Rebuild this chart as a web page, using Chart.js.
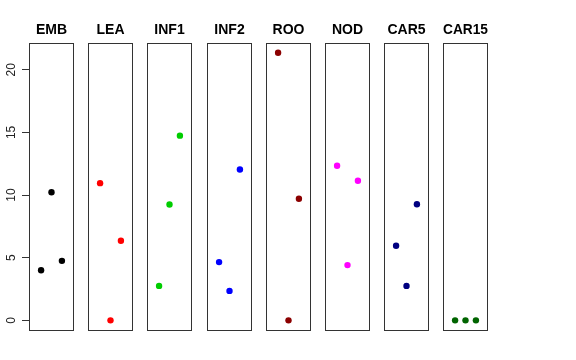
<!DOCTYPE html>
<html>
<head>
<meta charset="utf-8">
<script src="https://cdn.jsdelivr.net/npm/chart.js@4/dist/chart.umd.min.js"></script>
<style>
  body { margin: 0; background: #fff; }
  #wrap { position: relative; width: 576px; height: 360px; overflow: hidden; }
  canvas { position: absolute; top: 0; }
</style>
</head>
<body>
<div id="wrap"></div>
<script>
const panels = ["EMB", "LEA", "INF1", "INF2", "ROO", "NOD", "CAR5", "CAR15"];
const colors = ["#000000", "#ff0000", "#00cd00", "#0000ff", "#8b0000", "#ff00ff", "#000080", "#006400"];
const positions = [1, 2, 3];
const yTicks = [0, 5, 10, 15, 20];

const emb = [4.0, 10.22, 4.75];
const lea = [10.95, 0, 6.35];
const inf1 = [2.75, 9.24, 14.74];
const inf2 = [4.65, 2.35, 12.04];
const roo = [21.36, 0, 9.7];
const nod = [12.34, 4.41, 11.14];
const car5 = [5.95, 2.75, 9.26];
const car15 = [0, 0, 0];

const values = [emb, lea, inf1, inf2, roo, nod, car5, car15];

const wrap = document.getElementById("wrap");
const pad = 5;
const boxW = 45;
const axisW = 29;

// draws the frame around each panel
const boxPlugin = {
  id: "box",
  beforeDatasetsDraw(chart) {
    const a = chart.chartArea;
    const ctx = chart.ctx;
    ctx.save();
    ctx.strokeStyle = "#333";
    ctx.lineWidth = 1;
    ctx.strokeRect(Math.round(a.left) + 0.5, Math.round(a.top) + 0.5,
      Math.round(a.right - a.left) - 1, Math.round(a.bottom - a.top) - 1);
    ctx.restore();
  },
};

for (let i = 0; i < panels.length; i++) {
  const boxLeft = Math.round(29 + i * 59.2);
  const first = i === 0;
  // first canvas is kept symmetric round the panel so the title stays centred
  const left = first ? 0 : boxLeft - pad;
  const width = first ? 2 * axisW + boxW : boxW + 2 * pad;

  const canvas = document.createElement("canvas");
  canvas.width = width;
  canvas.height = 360;
  canvas.style.left = left + "px";
  wrap.appendChild(canvas);

  const points = [];
  for (let j = 0; j < positions.length; j++) {
    points.push({ x: positions[j], y: values[i][j] });
  }

  const scales = {
    x: {
      type: "linear",
      min: -0.16,
      max: 4.16,
      display: false,
    },
    y: {
      type: "linear",
      min: -0.85,
      max: 22.15,
      display: first,
    },
  };
  if (first) {
    Object.assign(scales.y, {
      afterBuildTicks: (scale) => {
        scale.ticks = yTicks.map((v) => ({ value: v }));
      },
      afterFit: (scale) => {
        scale.width = axisW;
      },
      border: { display: false },
      grid: { drawOnChartArea: false, drawTicks: true, tickLength: 7, color: "#333" },
      ticks: {
        minRotation: 90,
        maxRotation: 90,
        crossAlign: "center",
        padding: 4,
        color: "#222",
        font: { family: "Liberation Sans, Arial, sans-serif", size: 12 },
      },
    });
    // empty right axis, same width as the left one
    scales.yRight = {
      type: "linear",
      position: "right",
      min: -0.85,
      max: 22.15,
      border: { display: false },
      grid: { display: false },
      ticks: { display: false },
      afterFit: (scale) => {
        scale.width = axisW;
      },
    };
  }

  new Chart(canvas, {
    type: "scatter",
    data: {
      datasets: [
        {
          data: points,
          backgroundColor: colors[i],
          borderWidth: 0,
          pointRadius: 3.2,
        },
      ],
    },
    options: {
      responsive: false,
      animation: false,
      layout: { padding: { left: first ? 0 : pad, right: first ? 0 : pad, top: 0, bottom: 29 } },
      plugins: {
        legend: { display: false },
        tooltip: { enabled: false },
        title: {
          display: true,
          text: panels[i],
          color: "#000",
          font: { family: "Liberation Sans, Arial, sans-serif", size: 14, weight: "bold" },
          padding: { top: 22, bottom: 4 },
        },
      },
      scales: scales,
    },
    plugins: [boxPlugin],
  });
}
</script>
</body>
</html>
